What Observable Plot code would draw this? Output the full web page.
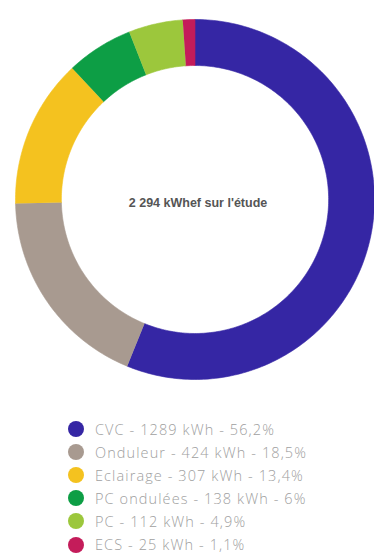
<!DOCTYPE html>
<html><head><meta charset="utf-8">
<script src="https://cdn.jsdelivr.net/npm/d3@7"></script>
<script src="https://cdn.jsdelivr.net/npm/@observablehq/plot@0.6"></script>
<style>
body{margin:0;background:#fff;}
#chart{position:relative;width:374px;height:556px;overflow:hidden;}
#chart svg{position:absolute;left:0;top:0;}
#legend{position:absolute;left:68px;top:417.5px;font-family:"Open Sans",sans-serif;font-weight:300;font-size:14.5px;color:#a0a0a0;letter-spacing:1.1px;}
.row{display:flex;align-items:center;height:23.1px;white-space:nowrap;}
.sw{width:16px;height:16px;border-radius:50%;margin-right:11px;flex:none;}
</style></head><body><div id="chart"></div>
<script>
const categories = ["CVC", "Onduleur", "Eclairage", "PC ondulées", "PC", "ECS"];
const values = [1289, 424, 307, 138, 112, 25];
const percents = ["56,2%", "18,5%", "13,4%", "6%", "4,9%", "1,1%"];
const colors = ["#3526a4", "#a89a90", "#f4c21f", "#0d9e45", "#9cc73c", "#c41c5a"];
const totalLabel = "2 294 kWhef sur l'étude";
const unit = "kWh";

const innerRatio = 134 / 180;
const total = d3.sum(values);
let acc = 0;
const slices = categories.map((c, i) => {
  const a0 = acc / total * 2 * Math.PI;
  acc += values[i];
  const a1 = acc / total * 2 * Math.PI;
  return {cat: c, a0, a1, color: colors[i]};
});
function ring(s) {
  const n = Math.max(2, Math.ceil((s.a1 - s.a0) / (2 * Math.PI) * 360));
  const pts = [];
  for (let k = 0; k <= n; k++) {
    const a = s.a0 + (s.a1 - s.a0) * k / n;
    pts.push({x: Math.sin(a), y: Math.cos(a)});
  }
  for (let k = n; k >= 0; k--) {
    const a = s.a0 + (s.a1 - s.a0) * k / n;
    pts.push({x: innerRatio * Math.sin(a), y: innerRatio * Math.cos(a)});
  }
  return pts;
}

const plot = Plot.plot({
  width: 374,
  height: 399,
  marginLeft: 15,
  marginRight: 0,
  marginTop: 19,
  marginBottom: 20,
  x: {domain: [-1, 1], axis: null},
  y: {domain: [-1, 1], axis: null},
  marks: [
    ...slices.map(s => Plot.line(ring(s), {x: "x", y: "y", fill: s.color, stroke: s.color, strokeWidth: 0.6})),
    Plot.text([totalLabel], {frameAnchor: "middle", dx: 3, dy: 3, text: d => d, fontFamily: "Liberation Sans, Arial, sans-serif", fontWeight: "bold", fontSize: 12.5, fill: "#555"})
  ]
});
document.getElementById("chart").appendChild(plot);

const legend = document.createElement("div");
legend.id = "legend";
categories.forEach((c, i) => {
  const row = document.createElement("div");
  row.className = "row";
  const sw = document.createElement("span");
  sw.className = "sw";
  sw.style.background = colors[i];
  const t = document.createElement("span");
  t.textContent = `${c} - ${values[i]} ${unit} - ${percents[i]}`;
  row.appendChild(sw);
  row.appendChild(t);
  legend.appendChild(row);
});
document.getElementById("chart").appendChild(legend);
</script>
</body></html>
